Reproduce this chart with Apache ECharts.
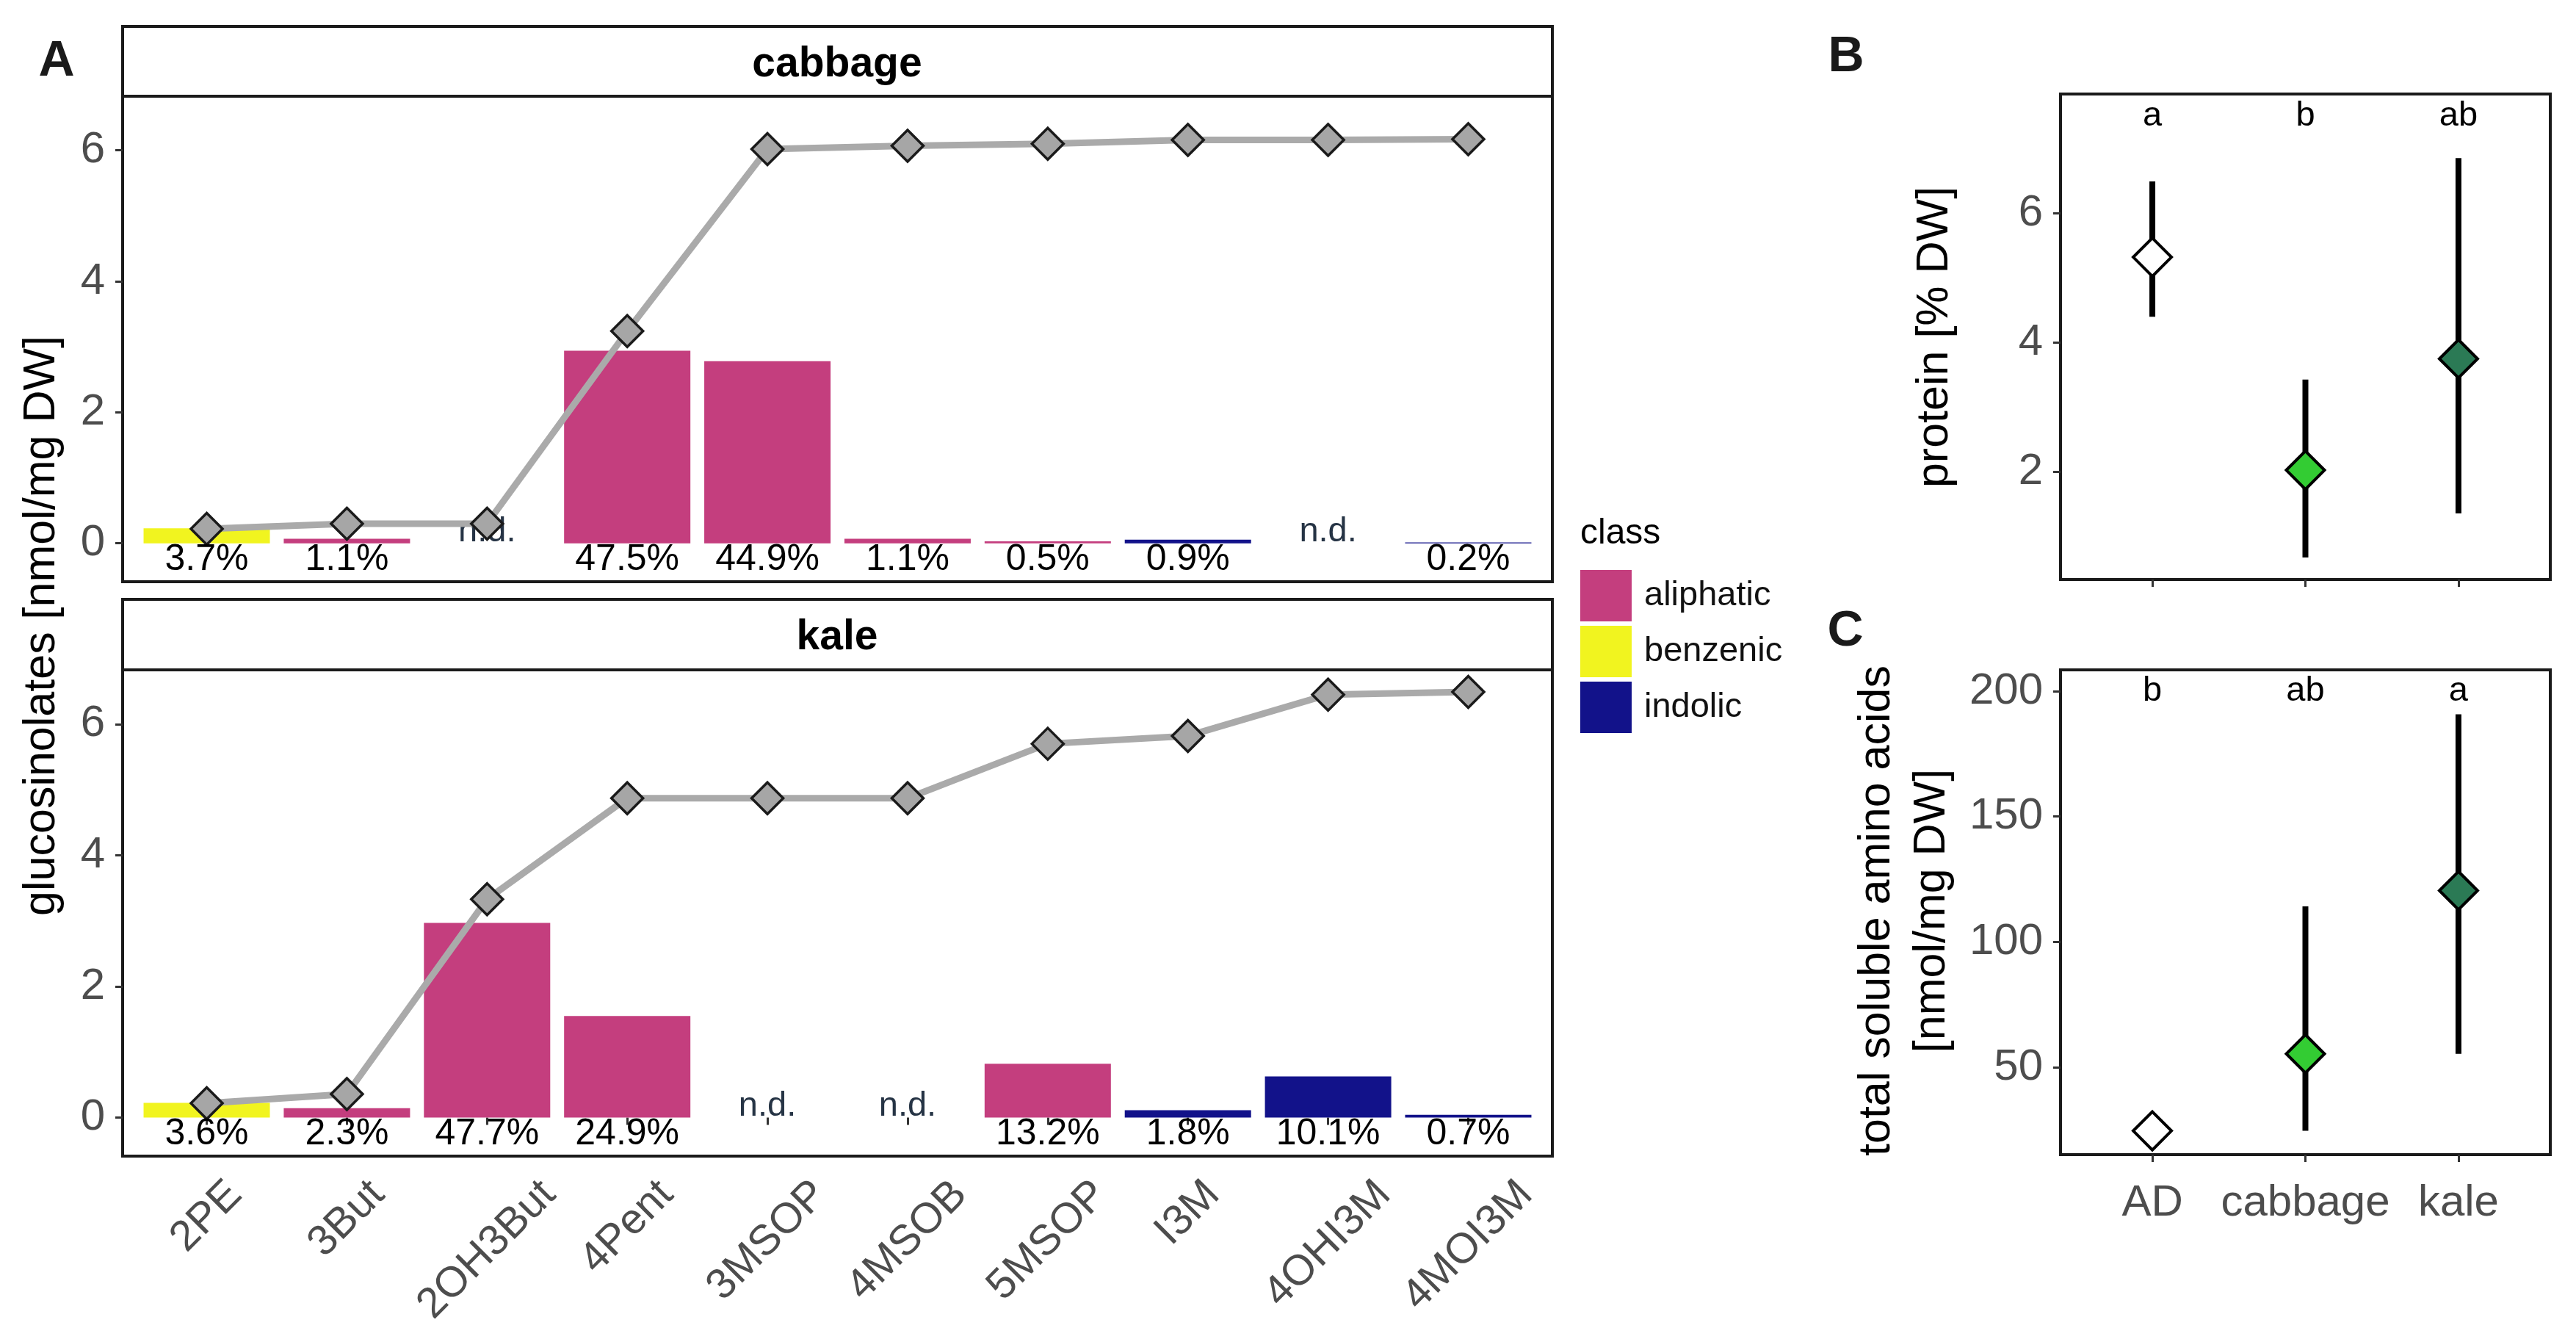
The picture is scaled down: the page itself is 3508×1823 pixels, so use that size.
<!DOCTYPE html>
<html><head><meta charset="utf-8">
<script src="https://cdn.jsdelivr.net/npm/echarts@6/dist/echarts.min.js"></script>
<style>html,body{margin:0;padding:0;background:#fff}#c{width:3508px;height:1823px}</style>
</head><body><div id="c"></div>
<script>
// ---------- data ----------
const categories = ['2PE','3But','2OH3But','4Pent','3MSOP','4MSOB','5MSOP','I3M','4OHI3M','4MOI3M'];
const classOf = ['benzenic','aliphatic','aliphatic','aliphatic','aliphatic','aliphatic','aliphatic','indolic','indolic','indolic'];
const classes = ['aliphatic','benzenic','indolic'];
const classColors = ['#c43e7e','#f1f41f','#12128a'];
const cabbageValues = [0.23, 0.068, null, 2.94, 2.78, 0.068, 0.031, 0.056, null, 0.012];
const kaleValues = [0.224, 0.143, 2.97, 1.55, null, null, 0.82, 0.112, 0.629, 0.044];
const cabbageCumulative = [0.22, 0.30, 0.30, 3.24, 6.02, 6.07, 6.10, 6.16, 6.16, 6.17];
const kaleCumulative = [0.22, 0.36, 3.33, 4.87, 4.87, 4.87, 5.70, 5.82, 6.45, 6.49];
const cabbageLabels = ['3.7%','1.1%','n.d.','47.5%','44.9%','1.1%','0.5%','0.9%','n.d.','0.2%'];
const kaleLabels = ['3.6%','2.3%','47.7%','24.9%','n.d.','n.d.','13.2%','1.8%','10.1%','0.7%'];
const glsTicks = [0, 2, 4, 6];

const groups = ['AD','cabbage','kale'];
const groupColors = ['#ffffff','#33cc33','#2b7a55'];
const proteinMean = [5.32, 2.03, 3.75];
const proteinLow = [4.40, 0.68, 1.36];
const proteinHigh = [6.49, 3.43, 6.85];
const proteinLetters = ['a','b','ab'];
const proteinTicks = [2, 4, 6];
const aminoMean = [24.7, 55.4, 120.5];
const aminoLow = [24.7, 24.7, 55.4];
const aminoHigh = [24.7, 114.2, 190.8];
const aminoLetters = ['b','ab','a'];
const aminoTicks = [50, 100, 150, 200];

// ---------- layout / style ----------
const FONT = "'Liberation Sans', Arial, sans-serif";
const GREY = '#4d4d4d';
const XFS = 58;
const GLS_MIN = -0.587, GLS_MAX = 6.827;
const PCT_Y = -0.25, ND_Y = 0.17, LETTER_B_Y = 7.5, LETTER_C_Y = 200;
const grids = [
  {left:167, top:131, width:1947, height:661},
  {left:167, top:912, width:1947, height:662},
  {left:2806, top:128, width:667, height:661},
  {left:2806, top:912, width:667, height:660}
].map(g => Object.assign({show:true, borderColor:'#1a1a1a', borderWidth:4, backgroundColor:'transparent',
  containLabel:false, outerBoundsMode:'none'}, g));

const idx = categories.map((c,i)=>i+1);
const gidx = groups.map((g,i)=>i+1);

const measureCtx = document.createElement('canvas').getContext('2d');
measureCtx.font = XFS + "px 'Liberation Sans', Arial, sans-serif";

function xA(gridIndex, showTicks){
  return {type:'value', gridIndex, min:0.4, max:10.6,
    axisLine:{show:false}, splitLine:{show:false},
    axisTick:{show:showTicks, customValues:idx, length:10, lineStyle:{color:'#333', width:3}},
    axisLabel:{show:false}};
}
function yA(gridIndex, min, max, ticks){
  return {type:'value', gridIndex, min, max,
    axisLine:{show:false}, splitLine:{show:false},
    axisTick:{show:true, customValues:ticks, length:10, lineStyle:{color:'#333', width:3}},
    axisLabel:{customValues:ticks, margin:24, fontSize:60, color:GREY, fontFamily:FONT}};
}
function xB(gridIndex, showLabels){
  return {type:'value', gridIndex, min:0.4, max:3.6,
    axisLine:{show:false}, splitLine:{show:false},
    axisTick:{show:true, customValues:gidx, length:10, lineStyle:{color:'#333', width:3}},
    axisLabel:{show:showLabels, customValues:gidx, showMinLabel:true, showMaxLabel:true,
      formatter:v=>groups[Math.round(v)-1],
      margin:36, fontSize:60, color:GREY, fontFamily:FONT}};
}

// text marks drawn through the axes' scales
function textSeries(xi, items, fontSize, color, z){
  return {type:'custom', xAxisIndex:xi, yAxisIndex:xi, z:z||5, silent:true, clip:false,
    data: items.map(d=>[d[0], d[1]]),
    renderItem(params, api){
      const p = api.coord([api.value(0), api.value(1)]);
      return {type:'text', x:p[0], y:p[1],
        style:{text:items[params.dataIndex][2], fontSize, fontFamily:FONT, fill:color,
          align:'center', verticalAlign:'middle'}};
    }};
}

const series = [];
function panelA(values, cumulative, labels, xi){
  classes.forEach((k,ci)=>{
    series.push({type:'bar', name:k, xAxisIndex:xi, yAxisIndex:xi, stack:'s'+xi, barWidth:172,
      itemStyle:{color:classColors[ci]}, z:2,
      data: values.map((v,i)=> (classOf[i]===k && v!=null) ? [i+1, v] : null).filter(d=>d)});
  });
  series.push({type:'line', xAxisIndex:xi, yAxisIndex:xi, z:4,
    data: cumulative.map((v,i)=>[i+1, v]),
    lineStyle:{color:'#aaaaaa', width:9}, symbol:'diamond', symbolSize:[43,43],
    itemStyle:{color:'#a6a6a6', borderColor:'#1a1a1a', borderWidth:3.5}});
  const pct = [], nd = [];
  labels.forEach((t,i)=>{ if (t==='n.d.') nd.push([i+1, ND_Y, t]); else pct.push([i+1, PCT_Y, t]); });
  series.push(textSeries(xi, pct, 50, '#000', 5));
  series.push(textSeries(xi, nd, 47, '#263445', 3));
}
panelA(cabbageValues, cabbageCumulative, cabbageLabels, 0);
panelA(kaleValues, kaleCumulative, kaleLabels, 1);

// rotated category labels under the kale panel (ggplot style: rotated box centred on tick, top-aligned)
series.push({type:'custom', xAxisIndex:1, yAxisIndex:1, z:5, silent:true, clip:false,
  data: categories.map((c,i)=>[i+1, GLS_MIN]),
  renderItem(params, api){
    const p = api.coord([api.value(0), api.value(1)]);
    const t = categories[params.dataIndex];
    const d = 3 + 0.3535*(measureCtx.measureText(t).width + XFS);
    return {type:'text', x:p[0], y:p[1] + 20 + d, rotation:Math.PI/4,
      style:{text:t, fontSize:XFS, fontFamily:FONT, fill:GREY, align:'center', verticalAlign:'middle'}};
  }});

function panelBC(mean, low, high, letters, letterY, xi){
  series.push({type:'custom', xAxisIndex:xi, yAxisIndex:xi, z:3,
    data: mean.map((m,i)=>[i+1, low[i], high[i]]),
    renderItem(params, api){
      const x = api.value(0);
      const p1 = api.coord([x, api.value(1)]), p2 = api.coord([x, api.value(2)]);
      return {type:'line', shape:{x1:p1[0], y1:p1[1], x2:p2[0], y2:p2[1]}, style:{stroke:'#000', lineWidth:8}};
    }});
  series.push({type:'scatter', xAxisIndex:xi, yAxisIndex:xi, z:4, symbol:'diamond', symbolSize:[52,52],
    data: mean.map((m,i)=>({value:[i+1, m], itemStyle:{color:groupColors[i]}})),
    itemStyle:{borderColor:'#000', borderWidth:4, opacity:1}});
  series.push(textSeries(xi, letters.map((t,i)=>[i+1, letterY, t]), 47, '#000', 5));
}
panelBC(proteinMean, proteinLow, proteinHigh, proteinLetters, LETTER_B_Y, 2);
panelBC(aminoMean, aminoLow, aminoHigh, aminoLetters, LETTER_C_Y, 3);

function txt(x, y, text, size, opts){
  return Object.assign({type:'text', x, y, z:10, style:Object.assign({text, fontSize:size, fontFamily:FONT, fill:'#000',
    align:'center', verticalAlign:'middle'}, (opts && opts.style)||{})}, (opts && opts.el)||{});
}

const graphic = [
  {type:'rect', shape:{x:167, y:36, width:1947, height:95}, style:{fill:'#fff', stroke:'#1a1a1a', lineWidth:4}, z:1},
  {type:'rect', shape:{x:167, y:816, width:1947, height:96}, style:{fill:'#fff', stroke:'#1a1a1a', lineWidth:4}, z:1},
  txt(1140, 88, 'cabbage', 57, {style:{fontWeight:'bold'}}),
  txt(1140, 868, 'kale', 57, {style:{fontWeight:'bold'}}),
  txt(77, 84, 'A', 68, {style:{fontWeight:'bold', fill:'#1a1a1a'}}),
  txt(2514, 78, 'B', 68, {style:{fontWeight:'bold', fill:'#1a1a1a'}}),
  txt(2513, 860, 'C', 68, {style:{fontWeight:'bold', fill:'#1a1a1a'}}),
  txt(57, 852, 'glucosinolates [nmol/mg DW]', 61, {el:{rotation:Math.PI/2}}),
  txt(2635, 459, 'protein [% DW]', 61, {el:{rotation:Math.PI/2}}),
  txt(2594, 1240, 'total soluble amino acids\n[nmol/mg DW]', 61, {el:{rotation:Math.PI/2}, style:{lineHeight:75}}),
  txt(2152, 727, 'class', 48, {style:{align:'left'}})
];

const chart = echarts.init(document.getElementById('c'), null, {renderer:'canvas'});
chart.setOption({
  animation:false,
  backgroundColor:'#ffffff',
  textStyle:{fontFamily:FONT},
  grid: grids,
  xAxis:[xA(0,false), xA(1,true), xB(2,false), xB(3,true)],
  yAxis:[yA(0,GLS_MIN,GLS_MAX,glsTicks), yA(1,GLS_MIN,GLS_MAX,glsTicks), yA(2,0.34,7.84,proteinTicks), yA(3,15.2,208.5,aminoTicks)],
  legend:{data:classes, orient:'vertical', left:2152, top:776, padding:0, itemGap:6,
    itemWidth:70, itemHeight:70, icon:'rect',
    textStyle:{fontSize:47, color:'#111', fontFamily:FONT, padding:[0,0,0,12]}},
  series,
  graphic
});
</script></body></html>
